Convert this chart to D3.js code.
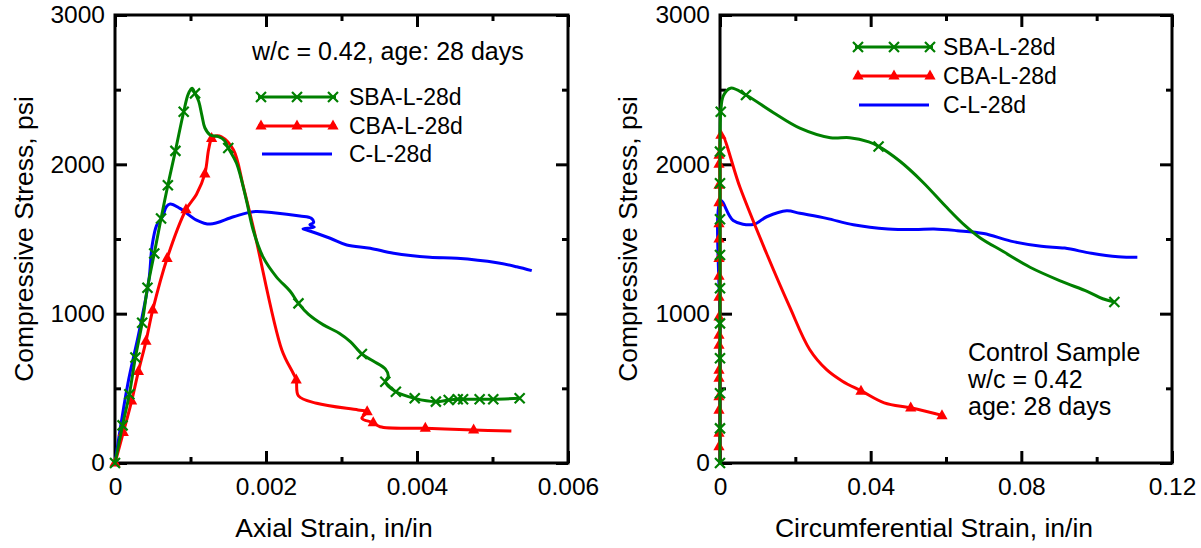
<!DOCTYPE html>
<html>
<head>
<meta charset="utf-8">
<script src="https://cdn.jsdelivr.net/npm/d3@7"></script>
<style>
  body { margin: 0; background: #fff; }
  text { font-family: "Liberation Sans", Arial, Helvetica, sans-serif; fill: #000; }
</style>
</head>
<body>
<svg id="chart" width="1201" height="548"></svg>
<script>
// ---- axis ticks ----
const stressTicks = [0, 1000, 2000, 3000];
const stressMinor = [500, 1500, 2500];
const axialTicks = [0, 0.002, 0.004, 0.006];
const axialTickLabels = ["0", "0.002", "0.004", "0.006"];
const axialMinor = [0.001, 0.003, 0.005];
const circTicks = [0, 0.04, 0.08, 0.12];
const circTickLabels = ["0", "0.04", "0.08", "0.12"];
const circMinor = [0.02, 0.06, 0.1];

const seriesNames = ["SBA-L-28d", "CBA-L-28d", "C-L-28d"];

// ---- axial strain vs stress [strain, psi] ----
const sbaAxial = [[0,0],[0.0001,252],[0.00019,461],[0.00027,706],[0.00036,939],[0.00043,1173],
  [0.00052,1403],[0.00061,1637],[0.0007,1860],[0.0008,2090],[0.00091,2352],[0.00097,2470],
  [0.00102,2509],[0.00106,2475],[0.00111,2420],[0.00115,2330],[0.00119,2245],[0.00126,2197],
  [0.00137,2185],[0.00145,2160],[0.0015,2110],[0.00161,2007],[0.00174,1761],[0.00183,1560],
  [0.00196,1380],[0.00214,1245],[0.00232,1150],[0.00243,1069],[0.00256,997],[0.00276,925],
  [0.00297,869],[0.00312,811],[0.00327,730],[0.00342,683],[0.00358,630],[0.00362,580],
  [0.00358,544],[0.00372,477],[0.00397,433],[0.00425,411],[0.00442,422],[0.00454,427],
  [0.00461,427],[0.00483,427],[0.00501,427],[0.00536,433]];
const sbaAxialMarks = [[0,0],[0.0001,252],[0.00019,461],[0.00027,706],[0.00036,939],[0.00043,1173],
  [0.00052,1403],[0.00061,1637],[0.0007,1860],[0.0008,2090],[0.00091,2352],[0.00106,2475],
  [0.0015,2110],[0.00243,1069],[0.00327,730],[0.00358,544],[0.00372,477],[0.00397,433],
  [0.00425,411],[0.00442,422],[0.00454,427],[0.00461,427],[0.00483,427],[0.00501,427],[0.00536,433]];

const cbaAxial = [[0,0],[0.00011,205],[0.00022,415],[0.00031,613],[0.00041,815],[0.0005,1025],
  [0.00069,1370],[0.00094,1696],[0.00108,1800],[0.00119,1936],[0.00124,2100],[0.00128,2173],
  [0.00133,2190],[0.00141,2185],[0.00157,2096],[0.0017,1850],[0.00185,1538],[0.00221,757],
  [0.00236,601],[0.0024,556],[0.00243,449],[0.00267,400],[0.00322,355],[0.00334,344],
  [0.00327,299],[0.00342,270],[0.00351,243],[0.00411,232],[0.00475,221],[0.00525,214]];
const cbaAxialMarks = [[0,0],[0.00011,205],[0.00022,415],[0.00031,613],[0.00041,815],[0.0005,1025],
  [0.00069,1370],[0.00094,1696],[0.00119,1936],[0.00128,2173],[0.0024,556],[0.00334,344],
  [0.00342,270],[0.00411,232],[0.00475,221]];

const cAxial = [[0,0],[0.00017,530],[0.00032,880],[0.00045,1230],[0.00049,1450],[0.00055,1590],
  [0.00063,1650],[0.00068,1716],[0.00073,1734],[0.00086,1705],[0.00108,1627],[0.00126,1600],
  [0.00157,1649],[0.00183,1683],[0.0021,1676],[0.00245,1654],[0.0026,1639],[0.00263,1610],
  [0.00258,1595],[0.00264,1580],[0.00249,1568],[0.00253,1562],[0.00285,1505],[0.00307,1460],
  [0.00338,1438],[0.00369,1404],[0.00417,1377],[0.00453,1371],[0.00506,1341],[0.00532,1314],
  [0.00552,1288]];

// ---- circumferential strain vs stress [strain, psi] ----
const sbaCirc = [[0,0],[0,232],[0,467],[0,701],[0,935],[0,1170],[0,1393],[0,1632],[0,1873],
  [0,2085],[0.0002,2352],[0.0009,2460],[0.0028,2510],[0.0069,2464],[0.0141,2347],[0.0212,2242],
  [0.0293,2178],[0.0344,2178],[0.0395,2150],[0.0421,2120],[0.0477,2022],[0.0538,1882],
  [0.0599,1719],[0.065,1591],[0.069,1509],[0.0752,1416],[0.0823,1311],[0.0905,1218],
  [0.0976,1148],[0.1016,1100],[0.1047,1078]];
const sbaCircMarks = [[0,0],[0,232],[0,467],[0,701],[0,935],[0,1170],[0,1393],[0,1632],[0,1873],
  [0,2085],[0.0002,2352],[0.0069,2464],[0.0421,2120],[0.1047,1078]];

const cbaCirc = [[0,0],[0,600],[0,1200],[0,1800],[0.0005,2195],[0.0053,1846],[0.0124,1401],
  [0.0185,1045],[0.0238,760],[0.0283,625],[0.0325,548],[0.0377,480],[0.0436,403],
  [0.0509,368],[0.0592,317]];
const cbaCircMarks = [[0,109],[0,200],[0,354],[0,443],[0,568],[0,621],[0,788],[0,855],[0,977],
  [0,1110],[0,1250],[0,1370],[0,1500],[0,1602],[0,1742],[0,1860],[0,2000],[0,2060],
  [0.0005,2195],[0.0377,480],[0.0509,368],[0.0592,317]];

const cCirc = [[0,0],[0,900],[0.0002,1757],[0.0035,1624],[0.0088,1597],[0.0124,1649],
  [0.0177,1689],[0.0212,1672],[0.0283,1638],[0.0354,1595],[0.0446,1567],[0.0517,1563],
  [0.0568,1567],[0.063,1556],[0.07,1537],[0.0772,1486],[0.0853,1451],[0.0915,1439],
  [0.0986,1404],[0.1057,1381],[0.1108,1377]];

const GREEN = "#008000", RED = "#ff0000", BLUE = "#0000ff";

const svg = d3.select("#chart");

function crossPath(s) { return `M${-s},${-s}L${s},${s}M${-s},${s}L${s},${-s}`; }
const triPath = "M0,-6.5L5.6,3.5L-5.6,3.5Z";

function drawPanel(cfg) {
    const x = d3.scaleLinear().domain(cfg.xDomain).range([cfg.left, cfg.right]);
    const y = d3.scaleLinear().domain([0, 3000]).range([463, 15]);
    const g = svg.append("g");

    // ticks, all pointing inward
    const tickStyle = sel => {
        sel.select(".domain").remove();
        sel.attr("font-size", 24.5).attr("font-family", null);
        sel.selectAll(".tick line").attr("stroke", "#000").attr("stroke-width", 3);
        sel.selectAll(".tick text").attr("fill", "#000");
    };
    g.append("g").attr("transform", `translate(0,${y(0)})`)
        .call(d3.axisBottom(x).tickValues(cfg.xTicks).tickSize(-12).tickPadding(15)
            .tickFormat((d, i) => cfg.xLabels[i])).call(tickStyle);
    g.append("g").attr("transform", `translate(0,${y(0)})`)
        .call(d3.axisBottom(x).tickValues(cfg.xMinor).tickSize(-6).tickFormat("")).call(tickStyle);
    g.append("g").attr("transform", `translate(0,${y(3000)})`)
        .call(d3.axisTop(x).tickValues(cfg.xTicks).tickSize(-12).tickFormat("")).call(tickStyle);
    g.append("g").attr("transform", `translate(0,${y(3000)})`)
        .call(d3.axisTop(x).tickValues(cfg.xMinor).tickSize(-6).tickFormat("")).call(tickStyle);
    g.append("g").attr("transform", `translate(${cfg.left},0)`)
        .call(d3.axisLeft(y).tickValues(stressTicks).tickSize(-12).tickPadding(10)
            .tickFormat(d3.format("d"))).call(tickStyle);
    g.append("g").attr("transform", `translate(${cfg.left},0)`)
        .call(d3.axisLeft(y).tickValues(stressMinor).tickSize(-6).tickFormat("")).call(tickStyle);
    g.append("g").attr("transform", `translate(${cfg.right},0)`)
        .call(d3.axisRight(y).tickValues(stressTicks).tickSize(-12).tickFormat("")).call(tickStyle);
    g.append("g").attr("transform", `translate(${cfg.right},0)`)
        .call(d3.axisRight(y).tickValues(stressMinor).tickSize(-6).tickFormat("")).call(tickStyle);

    // frame
    g.append("rect")
        .attr("x", cfg.left).attr("y", y(3000))
        .attr("width", cfg.right - cfg.left).attr("height", y(0) - y(3000))
        .attr("fill", "none").attr("stroke", "#000").attr("stroke-width", 3);

    const line = d3.line()
        .x(d => x(d[0]))
        .y(d => y(d[1]))
        .curve(d3.curveCatmullRom.alpha(0.5));

    const plot = g.append("g");
    plot.append("path").attr("d", line(cfg.c)).attr("fill", "none")
        .attr("stroke", BLUE).attr("stroke-width", 3);
    plot.append("path").attr("d", line(cfg.cba)).attr("fill", "none")
        .attr("stroke", RED).attr("stroke-width", 3);
    plot.selectAll(".tri").data(cfg.cbaMarks).enter().append("path")
        .attr("class", "tri")
        .attr("transform", d => `translate(${x(d[0]) + cfg.triShift},${y(d[1])})`)
        .attr("d", triPath).attr("fill", RED);
    plot.append("path").attr("d", line(cfg.sba)).attr("fill", "none")
        .attr("stroke", GREEN).attr("stroke-width", 3);
    plot.selectAll(".crs").data(cfg.sbaMarks).enter().append("path")
        .attr("class", "crs")
        .attr("transform", d => `translate(${x(d[0])},${y(d[1])})`)
        .attr("d", crossPath(5)).attr("fill", "none")
        .attr("stroke", GREEN).attr("stroke-width", 2.2);

    // legend
    const lg = g.append("g");
    const L = cfg.legend;
    const colors = [GREEN, RED, BLUE];
    seriesNames.forEach((name, i) => {
        const ly = L.ys[i];
        const x0 = i === 2 ? L.x0 + 4 : L.x0;
        const x1 = i === 2 ? L.x1 - 4 : L.x1;
        lg.append("line").attr("x1", x0).attr("x2", x1).attr("y1", ly).attr("y2", ly)
            .attr("stroke", colors[i]).attr("stroke-width", 3);
        if (i < 2) {
            [L.x0 + 3, (L.x0 + L.x1) / 2, L.x1 - 3].forEach(mx => {
                if (i === 0) {
                    lg.append("path").attr("transform", `translate(${mx},${ly})`)
                        .attr("d", crossPath(5)).attr("fill", "none")
                        .attr("stroke", GREEN).attr("stroke-width", 2.2);
                } else {
                    lg.append("path").attr("transform", `translate(${mx},${ly})`)
                        .attr("d", triPath).attr("fill", RED);
                }
            });
        }
        lg.append("text").attr("x", L.textX).attr("y", ly + 8)
            .attr("font-size", 23).text(name);
    });

    // axis titles
    g.append("text")
        .attr("x", cfg.xTitleX).attr("y", 537)
        .attr("text-anchor", "middle").attr("font-size", 26.5)
        .text(cfg.xTitle);
    g.append("text")
        .attr("transform", `translate(${cfg.yTitleX},239) rotate(-90)`)
        .attr("text-anchor", "middle").attr("font-size", 26.5)
        .text("Compressive Stress, psi");

    // notes
    cfg.notes.forEach(n => {
        g.append("text").attr("x", n.x).attr("y", n.y)
            .attr("font-size", 25).text(n.text);
    });
}

drawPanel({
    left: 115, right: 568,
    xDomain: [0, 0.006], xTicks: axialTicks, xLabels: axialTickLabels, xMinor: axialMinor,
    sba: sbaAxial, sbaMarks: sbaAxialMarks,
    cba: cbaAxial, cbaMarks: cbaAxialMarks,
    c: cAxial, triShift: 0,
    legend: { x0: 258, x1: 336, ys: [97, 126, 154], textX: 349 },
    xTitle: "Axial Strain, in/in", xTitleX: 334, yTitleX: 33,
    notes: [{ x: 252, y: 60, text: "w/c = 0.42, age: 28 days" }]
});

drawPanel({
    left: 720, right: 1172,
    xDomain: [0, 0.12], xTicks: circTicks, xLabels: circTickLabels, xMinor: circMinor,
    sba: sbaCirc, sbaMarks: sbaCircMarks,
    cba: cbaCirc, cbaMarks: cbaCircMarks,
    c: cCirc, triShift: -1,
    legend: { x0: 855, x1: 933, ys: [47, 76, 105], textX: 943 },
    xTitle: "Circumferential Strain, in/in", xTitleX: 934, yTitleX: 637,
    notes: [
        { x: 968, y: 361, text: "Control Sample" },
        { x: 968, y: 388, text: "w/c = 0.42" },
        { x: 968, y: 415, text: "age: 28 days" }
    ]
});
</script>
</body>
</html>
